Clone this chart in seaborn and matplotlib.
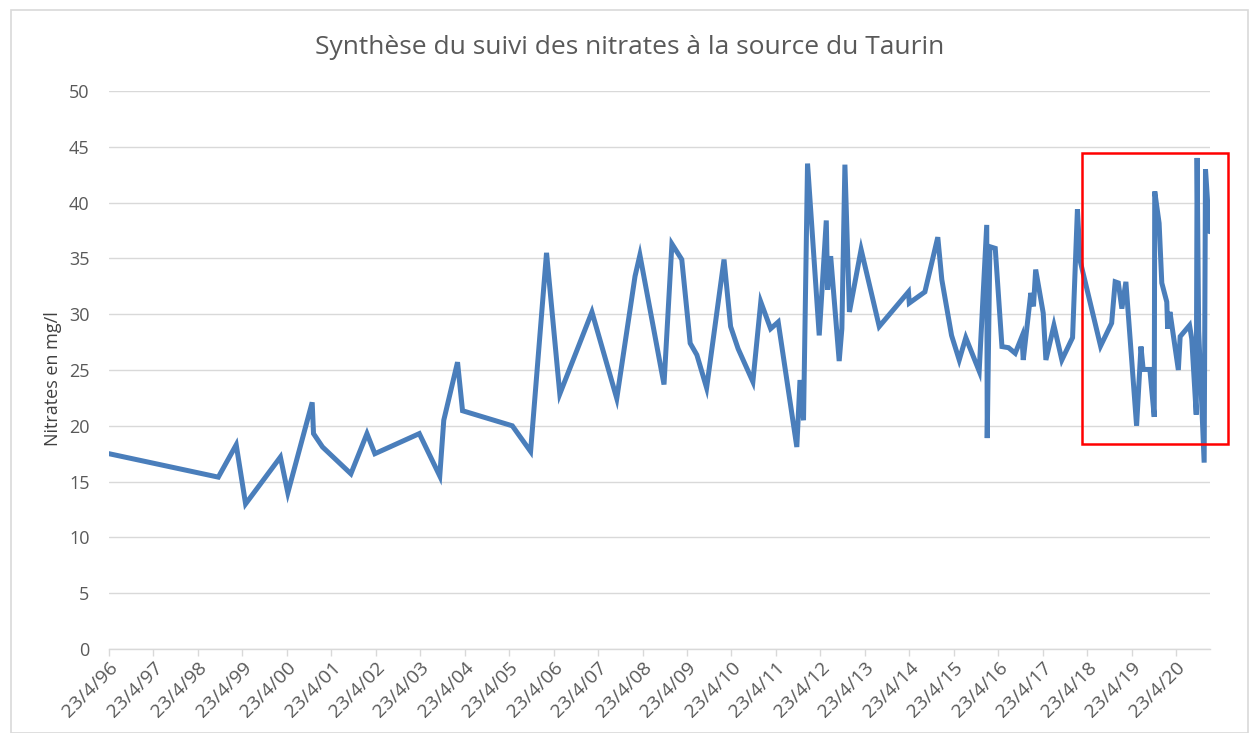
import matplotlib
matplotlib.use("Agg")
import matplotlib.pyplot as plt
import matplotlib.dates as mdates
from matplotlib.patches import Rectangle
from matplotlib.ticker import FuncFormatter, MultipleLocator
import pandas as pd
import seaborn as sns

title = "Synthèse du suivi des nitrates à la source du Taurin"
ylabel = "Nitrates en mg/l"

dates = [
    "1996-04-23", "1998-10-08", "1999-03-04", "1999-05-20", "2000-03-01", "2000-05-01",
    "2000-11-17", "2000-11-28", "2001-02-10", "2001-10-01", "2002-02-10", "2002-04-16",
    "2003-04-16", "2003-10-01", "2003-11-03", "2004-02-24", "2004-04-05", "2005-05-19",
    "2005-10-16", "2006-02-24", "2006-06-13", "2007-03-04", "2007-09-24", "2008-02-21",
    "2008-04-01", "2008-10-16", "2008-12-20", "2009-03-11", "2009-05-19", "2009-07-13",
    "2009-10-01", "2010-02-21", "2010-04-16", "2010-06-17", "2010-10-16", "2010-12-20",
    "2011-03-11", "2011-05-12", "2011-10-12", "2011-11-07", "2011-12-06", "2012-01-08",
    "2012-04-13", "2012-06-10", "2012-06-21", "2012-07-16", "2012-09-24", "2012-10-16",
    "2012-11-10", "2012-12-17", "2013-03-23", "2013-08-19", "2014-04-16", "2014-04-23",
    "2014-08-29", "2014-12-13", "2015-01-15", "2015-04-05", "2015-06-07", "2015-07-31",
    "2015-11-18", "2016-01-19", "2016-01-23", "2016-02-14", "2016-03-29", "2016-05-23",
    "2016-07-16", "2016-09-09", "2016-11-03", "2016-11-14", "2017-01-15", "2017-02-06",
    "2017-02-24", "2017-04-27", "2017-05-19", "2017-07-24", "2017-09-27", "2017-12-24",
    "2018-02-02", "2018-02-24", "2018-08-11", "2018-11-10", "2018-12-09", "2019-01-04",
    "2019-02-02", "2019-03-07", "2019-06-03", "2019-07-09", "2019-07-27", "2019-09-20",
    "2019-10-26", "2019-10-30", "2019-12-05", "2019-12-27", "2020-02-06", "2020-02-13",
    "2020-03-03", "2020-05-11", "2020-05-26", "2020-08-11", "2020-08-29", "2020-10-05",
    "2020-10-12", "2020-10-25", "2020-12-09", "2020-12-20", "2021-01-22",
]

nitrates = [
    17.5, 15.4, 18.3, 13.0, 17.2, 14.0,
    22.1, 19.3, 18.1, 15.7, 19.3, 17.5,
    19.3, 15.5, 20.5, 25.7, 21.35, 20.0,
    17.7, 35.5, 22.85, 30.2, 22.45, 33.4,
    35.3, 23.7, 36.3, 34.9, 27.4, 26.35,
    23.4, 34.9, 28.9, 26.9, 23.95, 31.1,
    28.7, 29.3, 18.1, 24.1, 20.5, 43.5,
    28.1, 38.4, 32.2, 35.2, 25.8, 28.7,
    43.4, 30.2, 35.8, 28.9, 32.0, 31.0,
    32.0, 36.9, 33.1, 28.1, 25.9, 27.9,
    24.9, 38.0, 18.9, 36.05, 35.9, 27.1,
    27.0, 26.5, 28.0, 25.9, 31.9, 30.7,
    34.0, 30.1, 25.9, 29.0, 25.9, 27.9,
    39.4, 34.8, 27.15, 29.2, 32.9, 32.8,
    30.5, 32.9, 20.0, 27.1, 25.05, 25.05,
    20.8, 41.0, 38.15, 32.8, 31.1, 28.7,
    30.2, 25.0, 28.0, 29.0, 27.8, 21.0,
    44.0, 28.5, 16.7, 43.0, 37.4,
]

x_start = "1996-04-23"
x_end = "2021-01-26"
y_ticks_step = 5
y_max = 50

df = pd.DataFrame({"date": pd.to_datetime(dates), "nitrates": nitrates})

sns.set_theme(style="white")
plt.rcParams["font.family"] = ["Open Sans", "DejaVu Sans"]

W, H = 1250, 733
fig = plt.figure(figsize=(W / 100, H / 100), dpi=100)
ax = fig.add_axes([109 / W, 1 - 649 / H, (1210 - 109) / W, (649 - 91) / H])

sns.lineplot(data=df, x="date", y="nitrates", ax=ax, color="#4a7ebb",
             linewidth=3.6, sort=False, solid_joinstyle="miter")

ax.set_xlim(pd.Timestamp(x_start), pd.Timestamp(x_end))
ax.set_ylim(0, y_max)
ax.yaxis.set_major_locator(MultipleLocator(y_ticks_step))
ax.xaxis.set_major_locator(mdates.YearLocator(base=1, month=4, day=23))
ax.xaxis.set_major_formatter(FuncFormatter(
    lambda v, p: (lambda d: f"{d.day}/{d.month}/{d.strftime('%y')}")(mdates.num2date(v))))

ax.grid(axis="y", color="#d9d9d9", linewidth=1.0)
ax.set_axisbelow(True)
for s in ["top", "right", "left"]:
    ax.spines[s].set_visible(False)
ax.spines["bottom"].set_color("#d9d9d9")
ax.spines["bottom"].set_linewidth(1.0)

ax.tick_params(axis="x", which="major", direction="out", length=5, width=1,
               color="#d9d9d9", labelcolor="#595959", labelsize=14, pad=2, bottom=True)
ax.tick_params(axis="y", length=0, labelcolor="#595959", labelsize=13, pad=14)
for lbl in ax.get_xticklabels():
    lbl.set_rotation(45)
    lbl.set_ha("right")
    lbl.set_va("top")
    lbl.set_rotation_mode("anchor")

ax.set_xlabel("")
ax.set_ylabel(ylabel, fontsize=13, color="#404040", labelpad=8)
ax.yaxis.set_label_coords(-47 / (1210 - 109), 0.485)

fig.text(630 / W, 1 - 47 / H, title, ha="center", va="center",
         fontsize=19, color="#595959")

# chart-area border
fig.patches.append(Rectangle((11 / W, 0), (1248 - 11) / W, 1 - 10 / H,
                             transform=fig.transFigure, fill=False,
                             edgecolor="#d9d9d9", linewidth=1.2))
# red highlight rectangle
fig.patches.append(Rectangle((1082 / W, 1 - 444 / H), (1228 - 1082) / W, (444 - 153) / H,
                             transform=fig.transFigure, fill=False,
                             edgecolor="#ff0000", linewidth=1.8))

fig.savefig("out.png", dpi=100, facecolor="white")
